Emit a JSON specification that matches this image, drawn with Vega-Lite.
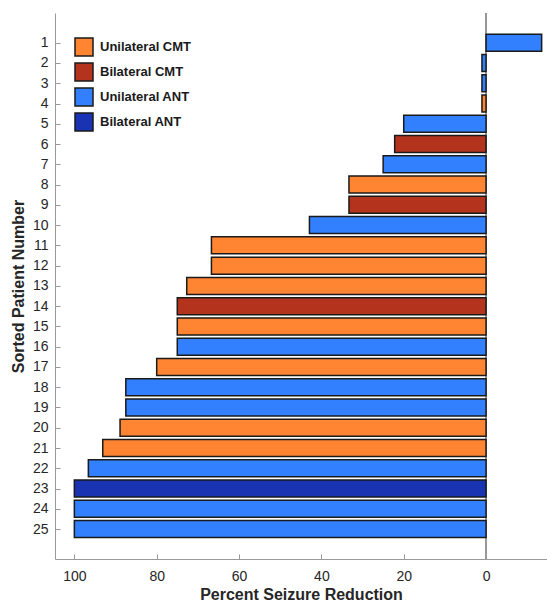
{
  "$schema": "https://vega.github.io/schema/vega-lite/v6.json",
  "width": 492,
  "height": 546,
  "autosize": "none",
  "padding": {"left": 55, "top": 13, "right": 0, "bottom": 43},
  "background": "white",
  "config": {
    "view": {"stroke": null},
    "font": "Liberation Sans",
    "axis": {"grid": false}
  },
  "data": {
    "values": [
      {"patient": 1, "reduction": -13.5, "group": "Unilateral ANT"},
      {"patient": 2, "reduction": 1, "group": "Unilateral ANT"},
      {"patient": 3, "reduction": 1, "group": "Unilateral ANT"},
      {"patient": 4, "reduction": 1, "group": "Unilateral CMT"},
      {"patient": 5, "reduction": 20, "group": "Unilateral ANT"},
      {"patient": 6, "reduction": 22.2, "group": "Bilateral CMT"},
      {"patient": 7, "reduction": 25, "group": "Unilateral ANT"},
      {"patient": 8, "reduction": 33.3, "group": "Unilateral CMT"},
      {"patient": 9, "reduction": 33.3, "group": "Bilateral CMT"},
      {"patient": 10, "reduction": 42.9, "group": "Unilateral ANT"},
      {"patient": 11, "reduction": 66.7, "group": "Unilateral CMT"},
      {"patient": 12, "reduction": 66.7, "group": "Unilateral CMT"},
      {"patient": 13, "reduction": 72.7, "group": "Unilateral CMT"},
      {"patient": 14, "reduction": 75, "group": "Bilateral CMT"},
      {"patient": 15, "reduction": 75, "group": "Unilateral CMT"},
      {"patient": 16, "reduction": 75, "group": "Unilateral ANT"},
      {"patient": 17, "reduction": 80, "group": "Unilateral CMT"},
      {"patient": 18, "reduction": 87.5, "group": "Unilateral ANT"},
      {"patient": 19, "reduction": 87.5, "group": "Unilateral ANT"},
      {"patient": 20, "reduction": 88.9, "group": "Unilateral CMT"},
      {"patient": 21, "reduction": 93.1, "group": "Unilateral CMT"},
      {"patient": 22, "reduction": 96.6, "group": "Unilateral ANT"},
      {"patient": 23, "reduction": 100, "group": "Bilateral ANT"},
      {"patient": 24, "reduction": 100, "group": "Unilateral ANT"},
      {"patient": 25, "reduction": 100, "group": "Unilateral ANT"}
    ]
  },
  "layer": [
    {
      "mark": {"type": "rule", "color": "#999999", "strokeWidth": 1},
      "encoding": {
        "x": {"datum": 0, "type": "quantitative"}
      }
    },
    {
      "mark": {"type": "bar", "orient": "horizontal", "size": 17, "stroke": "#1a1a1a", "strokeWidth": 1.5},
      "encoding": {
        "y": {
          "field": "patient",
          "type": "quantitative",
          "scale": {"domain": [-0.22, 26.23], "reverse": true, "nice": false, "zero": false},
          "axis": {
            "title": "Sorted Patient Number",
            "titleFont": "Liberation Sans",
            "titleFontSize": 16,
            "titleFontWeight": "bold",
            "titleColor": "#262626",
            "titleX": -37,
            "titleBaseline": "middle",
            "values": [1,2,3,4,5,6,7,8,9,10,11,12,13,14,15,16,17,18,19,20,21,22,23,24,25],
            "labelFontSize": 14,
            "labelColor": "#262626",
            "domainColor": "#999999",
            "tickColor": "#999999",
            "tickSize": -5,
            "labelPadding": 12
          }
        },
        "x": {
          "field": "reduction",
          "type": "quantitative",
          "scale": {"domain": [-14.8, 104.7], "reverse": true, "nice": false, "zero": false},
          "axis": {
            "title": "Percent Seizure Reduction",
            "titleFont": "Liberation Sans",
            "titleFontSize": 16,
            "titleFontWeight": "bold",
            "titleColor": "#262626",
            "titleY": 40,
            "titleBaseline": "alphabetic",
            "values": [0, 20, 40, 60, 80, 100],
            "labelFontSize": 14,
            "labelColor": "#262626",
            "domainColor": "#999999",
            "tickColor": "#999999",
            "tickSize": -5,
            "labelPadding": 15
          }
        },
        "color": {
          "field": "group",
          "type": "nominal",
          "scale": {
            "domain": ["Unilateral CMT", "Bilateral CMT", "Unilateral ANT", "Bilateral ANT"],
            "range": ["#FF8533", "#B3331C", "#3380FF", "#1A33B3"]
          },
          "legend": {
            "title": null,
            "orient": "none",
            "legendX": 19,
            "legendY": 24,
            "symbolType": "square",
            "symbolSize": 324,
            "symbolStrokeColor": "#1a1a1a",
            "symbolStrokeWidth": 1.5,
            "symbolOpacity": 1,
            "labelFont": "Liberation Sans",
            "labelFontSize": 13,
            "labelFontWeight": "bold",
            "labelColor": "#1a1a1a",
            "labelOffset": 6,
            "rowPadding": 1
          }
        }
      }
    }
  ]
}
